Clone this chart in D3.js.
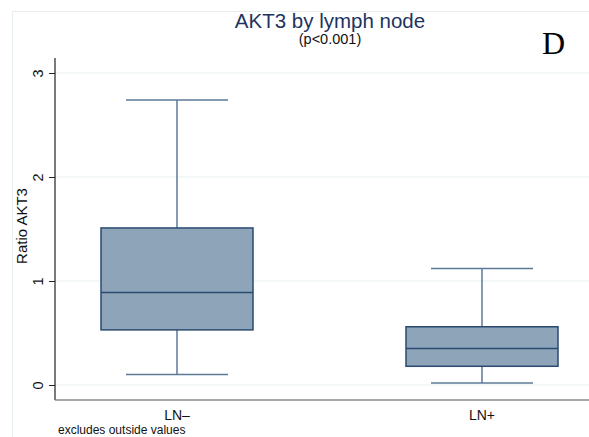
<!DOCTYPE html>
<html lang="en">
<head>
<meta charset="UTF-8">
<title>AKT3 by lymph node</title>
<style>
  body { margin: 0; background: #fff; }
  text { font-family: "Liberation Sans", Arial, sans-serif; }
</style>
</head>
<body>
<script src="https://d3js.org/d3.v7.min.js"></script>
<script>
    const groups = ["LN\u2013", "LN+"];
    const whiskLow = [0.10, 0.02];
    const q1 = [0.53, 0.18];
    const median = [0.89, 0.35];
    const q3 = [1.51, 0.56];
    const whiskHigh = [2.74, 1.12];
    const yTicks = [0, 1, 2, 3];

    const width = 589, height = 437;
    const plotLeft = 55, plotRight = 604, plotTop = 58, plotBottom = 400;

    const svg = d3.select("body").append("svg")
        .attr("width", width)
        .attr("height", height);

    // outer frame of the graph region (cropped on right / bottom)
    svg.append("path")
        .attr("d", "M12.5," + height + "V11.5H" + width)
        .attr("fill", "none")
        .attr("stroke", "#e6eded");

    const y = d3.scaleLinear().domain([0, 3]).range([385, 73]);
    const x = d3.scalePoint().domain(groups).range([plotLeft, plotRight]).padding(0.4);
    const boxW = 152, capW = 102;

    // grid
    svg.append("g").selectAll("line")
        .data(yTicks)
        .enter().append("line")
        .attr("x1", plotLeft).attr("x2", width)
        .attr("y1", d => y(d)).attr("y2", d => y(d))
        .attr("stroke", "#eaf0f0")
        .attr("stroke-width", 1.2);

    const data = groups.map((g, i) => ({
        g: g, lo: whiskLow[i], q1: q1[i], med: median[i], q3: q3[i], hi: whiskHigh[i]
    }));

    const box = svg.append("g").selectAll("g")
        .data(data)
        .enter().append("g");

    const whiskCol = "#5b7a99", boxStroke = "#2a4a70";

    box.append("line")
        .attr("x1", d => x(d.g)).attr("x2", d => x(d.g))
        .attr("y1", d => y(d.hi)).attr("y2", d => y(d.q3))
        .attr("stroke", whiskCol).attr("stroke-width", 1.5);
    box.append("line")
        .attr("x1", d => x(d.g)).attr("x2", d => x(d.g))
        .attr("y1", d => y(d.q1)).attr("y2", d => y(d.lo))
        .attr("stroke", whiskCol).attr("stroke-width", 1.5);
    box.append("line")
        .attr("x1", d => x(d.g) - capW / 2).attr("x2", d => x(d.g) + capW / 2)
        .attr("y1", d => y(d.hi)).attr("y2", d => y(d.hi))
        .attr("stroke", whiskCol).attr("stroke-width", 1.5);
    box.append("line")
        .attr("x1", d => x(d.g) - capW / 2).attr("x2", d => x(d.g) + capW / 2)
        .attr("y1", d => y(d.lo)).attr("y2", d => y(d.lo))
        .attr("stroke", whiskCol).attr("stroke-width", 1.5);
    box.append("rect")
        .attr("x", d => x(d.g) - boxW / 2)
        .attr("width", boxW)
        .attr("y", d => y(d.q3))
        .attr("height", d => y(d.q1) - y(d.q3))
        .attr("fill", "#8da4b9")
        .attr("stroke", boxStroke)
        .attr("stroke-width", 1.5);
    box.append("line")
        .attr("x1", d => x(d.g) - boxW / 2).attr("x2", d => x(d.g) + boxW / 2)
        .attr("y1", d => y(d.med)).attr("y2", d => y(d.med))
        .attr("stroke", boxStroke).attr("stroke-width", 1.5);

    // y axis
    const yAxis = svg.append("g")
        .attr("transform", "translate(" + plotLeft + ",0)")
        .call(d3.axisLeft(y).tickValues(yTicks).tickFormat(d3.format("d")).tickSize(6).tickSizeOuter(0));
    yAxis.select(".domain").remove();
    yAxis.append("line")
        .attr("y1", plotTop).attr("y2", plotBottom)
        .attr("stroke", "#222").attr("stroke-width", 1.2);
    yAxis.selectAll(".tick line").attr("stroke", "#222");
    yAxis.selectAll(".tick text")
        .attr("x", null).attr("dy", "0em")
        .attr("transform", "translate(-12,0) rotate(-90)")
        .style("text-anchor", "middle")
        .attr("fill", "#111")
        .attr("font-size", 14.5);

    // x axis
    svg.append("line")
        .attr("x1", plotLeft).attr("x2", width)
        .attr("y1", plotBottom).attr("y2", plotBottom)
        .attr("stroke", "#8a8a8a").attr("stroke-width", 1.5);
    svg.append("g").selectAll("text")
        .data(groups)
        .enter().append("text")
        .attr("x", d => x(d))
        .attr("y", 420)
        .attr("text-anchor", "middle")
        .attr("font-size", 14)
        .attr("fill", "#111")
        .text(d => d);

    svg.append("text")
        .attr("transform", "translate(27,226) rotate(-90)")
        .attr("text-anchor", "middle")
        .attr("font-size", 15)
        .attr("fill", "#111")
        .text("Ratio AKT3");

    svg.append("text")
        .attr("x", 330).attr("y", 28)
        .attr("text-anchor", "middle")
        .attr("font-size", 20.5)
        .attr("fill", "#1d3461")
        .text("AKT3 by lymph node");
    svg.append("text")
        .attr("x", 330).attr("y", 44)
        .attr("text-anchor", "middle")
        .attr("font-size", 14.5)
        .attr("fill", "#111")
        .text("(p<0.001)");
    svg.append("text")
        .attr("x", 542).attr("y", 54)
        .style("font-family", "'Liberation Serif', 'Times New Roman', serif")
        .attr("font-size", 32)
        .attr("fill", "#000")
        .text("D");

    svg.append("text")
        .attr("x", 58).attr("y", 434)
        .attr("font-size", 12)
        .attr("fill", "#111")
        .text("excludes outside values");
</script>
</body>
</html>
